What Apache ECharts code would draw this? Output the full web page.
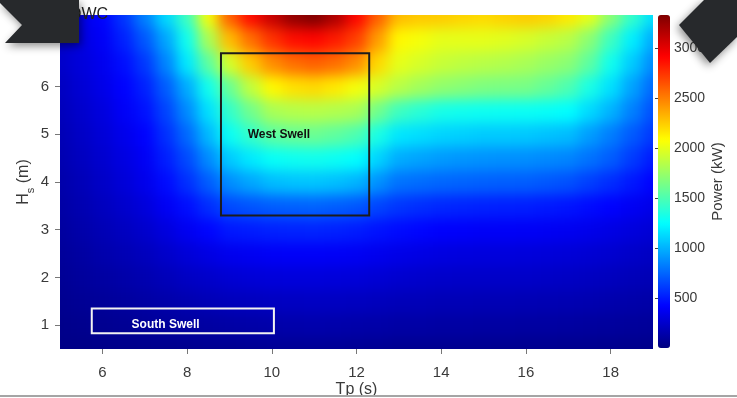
<!DOCTYPE html>
<html><head><meta charset="utf-8">
<script src="https://cdn.jsdelivr.net/npm/echarts@6/dist/echarts.min.js"></script>
<style>html,body{margin:0;padding:0;background:#fff;overflow:hidden}#c{width:737px;height:398px;position:relative}</style>
</head><body><div id="c"></div>
<script>
// ---- data ----
const tpValues = [5,5.5,6,6.5,7,7.5,8,8.5,9,9.5,10,10.5,11,11.5,12,12.5,13,13.5,14,14.5,15,15.5,16,16.5,17,17.5,18,18.5,19];
const hsValues = [0.5,1,1.5,2,2.5,3,3.5,4,4.5,5,5.5,6,6.5,7,7.5];
const powerHs0_5 = [25,27,30,35,40,45,50,55,60,65,70,71,72,70,68,64,60,58,56,55,54,53,52,51,50,48,46,43,40];
const powerHs1_0 = [40,49,58,69,80,93,105,115,125,133,140,143,145,142,138,132,125,122,118,116,114,113,112,109,106,102,98,92,85];
const powerHs1_5 = [55,70,85,102,120,140,160,178,195,205,215,218,220,216,210,200,190,185,180,178,176,174,172,169,165,158,150,140,130];
const powerHs2_0 = [72,93,115,138,160,190,220,245,270,283,295,298,300,296,290,275,260,252,245,242,240,238,236,230,225,215,205,190,175];
const powerHs2_5 = [88,115,145,172,200,245,290,325,360,375,390,393,395,390,380,360,340,328,315,310,305,302,300,292,285,272,260,240,220];
const powerHs3_0 = [105,140,175,210,250,310,370,430,490,505,520,528,530,520,505,475,450,430,410,402,395,392,390,380,370,350,330,305,280];
const powerHs3_5 = [122,162,205,250,300,380,460,560,660,690,720,735,740,725,700,640,590,565,540,530,520,515,510,495,480,450,420,380,340];
const powerHs4_0 = [140,185,235,290,350,450,570,720,880,960,1030,1055,1060,1040,1000,890,790,770,750,740,730,725,720,700,680,620,560,490,420];
const powerHs4_5 = [158,210,260,320,385,510,660,870,1080,1180,1270,1290,1300,1280,1250,1110,980,950,920,905,895,888,880,865,850,790,720,610,500];
const powerHs5_0 = [175,230,285,350,420,570,760,1020,1280,1420,1550,1590,1600,1560,1500,1330,1170,1140,1110,1095,1080,1075,1070,1050,1030,930,830,710,600];
const powerHs5_5 = [195,250,310,390,470,640,870,1150,1420,1620,1800,1840,1850,1830,1800,1620,1450,1380,1320,1300,1290,1285,1280,1270,1250,1130,1000,840,680];
const powerHs6_0 = [215,275,340,420,520,720,980,1300,1600,1880,2100,2180,2200,2150,2050,1950,1850,1780,1720,1690,1660,1650,1640,1580,1500,1330,1150,950,760];
const powerHs6_5 = [240,300,365,460,600,850,1180,1550,1950,2250,2450,2550,2600,2550,2450,2200,2000,1950,1900,1870,1850,1830,1800,1750,1700,1550,1300,1080,870];
const powerHs7_0 = [260,320,390,520,700,960,1300,1800,2300,2550,2750,2870,2900,2830,2700,2400,2100,2050,2000,2000,2000,1980,1950,1900,1850,1700,1450,1200,980];
const powerHs7_5 = [280,340,420,590,840,1130,1450,2050,2600,2880,3100,3270,3330,3180,2900,2600,2300,2260,2250,2220,2200,2230,2250,2220,2150,2000,1700,1420,1150];
const powerRows = [powerHs0_5,powerHs1_0,powerHs1_5,powerHs2_0,powerHs2_5,powerHs3_0,powerHs3_5,powerHs4_0,powerHs4_5,powerHs5_0,powerHs5_5,powerHs6_0,powerHs6_5,powerHs7_0,powerHs7_5];

const xTickLabels = [6,8,10,12,14,16,18];
const yTickLabels = [1,2,3,4,5,6,7];
const colorbarTicks = [500,1000,1500,2000,2500,3000];
const powerMin = 0, powerMax = 3330;

const regionNames = ['West Swell','South Swell'];
const regionTp = [[8.8,12.3],[5.75,10.05]];
const regionHs = [[3.3,6.7],[0.83,1.35]];
const regionLabelAt = [[9.43,5.0],[6.69,1.02]];

// ---- build ----
const FONT = '"Liberation Sans", Arial, Helvetica, sans-serif';
const jet = ['#00007F','#0000FF','#007FFF','#00FFFF','#7FFF7F','#FFFF00','#FF7F00','#FF0000','#7F0000'];
const heatData = [];
powerRows.forEach((row,i)=>row.forEach((v,j)=>heatData.push([tpValues[j],hsValues[i],v])));
const halfTp = (tpValues[1]-tpValues[0])/2, halfHs = (hsValues[1]-hsValues[0])/2;
const tpFirst = tpValues[0], tpLast = tpValues[tpValues.length-1];
const hsFirst = hsValues[0], hsLast = hsValues[hsValues.length-1];
const EXT = 30; // edge cells drawn past the frame, trimmed afterwards

const regionStyle = [{stroke:'#1c1c1c', text:'#111'}, {stroke:'#f2f2f2', text:'#ffffff'}];

const chart = echarts.init(document.getElementById('c'), null, {renderer:'canvas'});
chart.setOption({
  animation:false,
  textStyle:{fontFamily:FONT},
  grid:[
    {left:60, top:15, width:593, height:334, outerBoundsMode:'none', containLabel:false},
    {left:658, top:15, width:12, height:333, outerBoundsMode:'none', containLabel:false}
  ],
  xAxis:[
    {gridIndex:0, type:'value', min:5, max:19, zlevel:1,
     axisLine:{show:false}, splitLine:{show:false},
     axisTick:{show:true, inside:false, length:5, customValues:xTickLabels, lineStyle:{color:'#777'}},
     axisLabel:{customValues:xTickLabels, fontSize:15, color:'#3a3a3a', margin:16, fontFamily:FONT},
     name:'Tp (s)', nameLocation:'middle', nameGap:33, nameMoveOverlap:false,
     nameTextStyle:{fontSize:16, color:'#3a3a3a', fontFamily:FONT, verticalAlign:'top'}},
    {gridIndex:1, type:'value', min:0, max:1, show:false, zlevel:1}
  ],
  yAxis:[
    {gridIndex:0, type:'value', min:0.5, max:7.5, zlevel:1,
     axisLine:{show:false}, splitLine:{show:false},
     axisTick:{show:true, inside:false, length:5, customValues:yTickLabels, lineStyle:{color:'#777'}},
     axisLabel:{customValues:yTickLabels, fontSize:15, color:'#3a3a3a', margin:11, fontFamily:FONT},
     name:'{h|H}{s|s}{m| (m)}', nameLocation:'middle', nameGap:24, nameRotate:90, nameMoveOverlap:false,
     nameTextStyle:{color:'#3a3a3a', fontFamily:FONT, rich:{
        h:{fontSize:16, color:'#3a3a3a', lineHeight:24, verticalAlign:'middle'},
        s:{fontSize:11, color:'#3a3a3a', lineHeight:10, verticalAlign:'bottom'},
        m:{fontSize:16, color:'#3a3a3a', lineHeight:24, verticalAlign:'middle'}}}},
    {gridIndex:1, type:'value', min:powerMin, max:powerMax, position:'right', zlevel:1,
     axisLine:{show:false}, splitLine:{show:false},
     axisTick:{show:true, inside:true, length:3, customValues:colorbarTicks, lineStyle:{color:'#444'}},
     axisLabel:{customValues:colorbarTicks, fontSize:14, color:'#3a3a3a', margin:4, fontFamily:FONT,
       formatter:function(v){return String(v);}},
     name:'Power (kW)', nameLocation:'middle', nameGap:40, nameRotate:90, nameMoveOverlap:false,
     nameTextStyle:{fontSize:15, color:'#3a3a3a', fontFamily:FONT}}
  ],
  visualMap:{type:'continuous', min:powerMin, max:powerMax, dimension:2, seriesIndex:0, zlevel:1,
    left:658, top:15, itemWidth:12, itemHeight:333, padding:0, calculable:false, text:null,
    orient:'vertical', inRange:{color:jet}, hoverLink:false},
  series:[
    {type:'custom', xAxisIndex:0, yAxisIndex:0, dimensions:['tp','hs','power'], zlevel:0,
     encode:{x:0, y:1}, data:heatData, silent:true, clip:false,
     renderItem:function(params, api){
       const tp = api.value(0), hs = api.value(1);
       const a = api.coord([tp-halfTp, hs+halfHs]);
       const b = api.coord([tp+halfTp, hs-halfHs]);
       let x0=a[0], y0=a[1], x1=b[0], y1=b[1];
       if(tp===tpFirst) x0-=EXT;
       if(tp===tpLast) x1+=EXT;
       if(hs===hsLast) y0-=EXT;
       if(hs===hsFirst) y1+=EXT;
       return {type:'rect', shape:{x:x0, y:y0, width:x1-x0+0.7, height:y1-y0+0.7}, style:{fill:api.visual('color')}};
     }},
    {type:'custom', xAxisIndex:0, yAxisIndex:0, silent:true, zlevel:1, z:5,
     data:regionNames.map((n,i)=>[regionTp[i][0], regionHs[i][0]]),
     renderItem:function(params, api){
       const i = params.dataIndex;
       const p0 = api.coord([regionTp[i][0], regionHs[i][1]]);
       const p1 = api.coord([regionTp[i][1], regionHs[i][0]]);
       const lp = api.coord(regionLabelAt[i]);
       return {type:'group', children:[
         {type:'rect', shape:{x:p0[0], y:p0[1], width:p1[0]-p0[0], height:p1[1]-p0[1]},
          style:{fill:'none', stroke:regionStyle[i].stroke, lineWidth:2}},
         {type:'text', x:lp[0], y:lp[1], style:{text:regionNames[i], fill:regionStyle[i].text,
          fontSize:12, fontWeight:'bold', fontFamily:FONT, align:'left', verticalAlign:'middle'}}
       ]};
     }}
  ],
  graphic:[
    {type:'text', left:69, top:7, zlevel:1, z:50, style:{text:'OWC', fontSize:16, fill:'#222', fontFamily:FONT}},
    {type:'rect', left:0, top:395, zlevel:1, z:50, shape:{width:737, height:2}, style:{fill:'#a5a5a5'}},
    {type:'polygon', zlevel:1, z:100, shape:{points:[[0,0],[79,0],[79,43],[5,43],[22,25],[0,3]]},
     style:{fill:'#27292c', shadowBlur:8, shadowColor:'rgba(0,0,0,0.45)', shadowOffsetX:2, shadowOffsetY:3}},
    {type:'polygon', zlevel:1, z:100, shape:{points:[[679,25],[704,0],[737,0],[737,37],[710,63]]},
     style:{fill:'#27292c', shadowBlur:8, shadowColor:'rgba(0,0,0,0.45)', shadowOffsetX:-2, shadowOffsetY:3}}
  ]
});
// smooth shading of the surface layer (like interpolated shading), trimmed to the plot frame
(function(){
  const cvs = document.querySelectorAll('#c canvas');
  let base = document.querySelector('#c canvas[data-zr-dom-id="zr_0"]') || cvs[0];
  if(base){
    base.style.filter = 'blur(7px)';
    base.style.clipPath = 'inset(15px 84px 49px 60px)';
  }
})();
</script></body></html>
